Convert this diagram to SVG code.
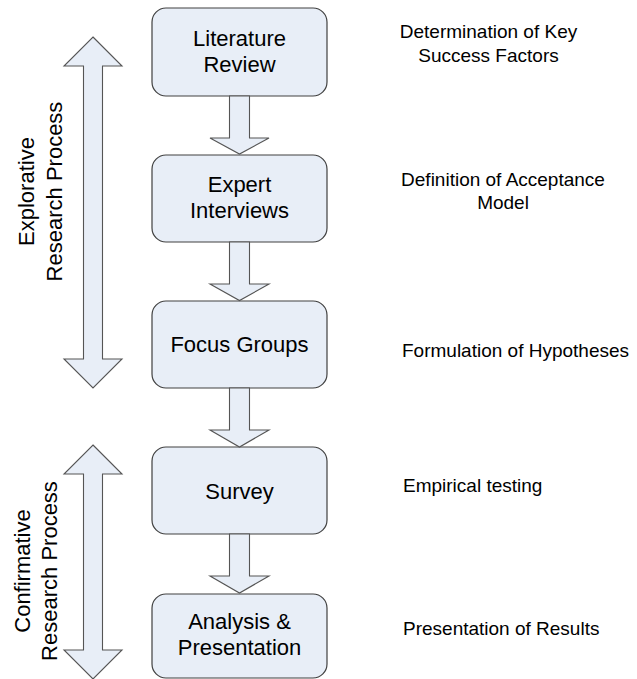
<svg xmlns="http://www.w3.org/2000/svg" width="637" height="679" viewBox="0 0 637 679">
  <style>
    .box { fill: #E8EEF7; stroke: #404040; stroke-width: 1.2; }
    .arrow { fill: #E8EEF7; stroke: #555555; stroke-width: 1.1; stroke-linejoin: miter; }
    .label { font-family: "Liberation Sans", Arial, sans-serif; font-size: 22px; fill: #000000; text-anchor: middle; }
    .note { font-family: "Liberation Sans", Arial, sans-serif; font-size: 19px; fill: #000000; }
    .note.c { text-anchor: middle; }
  </style>
  <rect width="637" height="679" fill="#FFFFFF"/>

  <!-- phase arrows with their rotated captions -->
  <g id="explorative-phase">
    <polygon class="arrow" points="93,37 122,66 102.5,66 102.5,359 122,359 93,388 64,359 83.5,359 83.5,66 64,66"/>
    <g transform="translate(34,191.5) rotate(-90)">
      <text class="label" x="0" y="0">Explorative</text>
      <text class="label" x="0" y="27.5">Research Process</text>
    </g>
  </g>
  <g id="confirmative-phase">
    <polygon class="arrow" points="93,445 122,474 102.5,474 102.5,650 122,650 93,679 64,650 83.5,650 83.5,474 64,474"/>
    <g transform="translate(30,571) rotate(-90)">
      <text class="label" x="0" y="0">Confirmative</text>
      <text class="label" x="0" y="26.5">Research Process</text>
    </g>
  </g>

  <!-- process steps -->
  <g id="literature-review">
    <rect class="box" x="152" y="8" width="175" height="88" rx="14" ry="14"/>
    <text class="label" x="239.5" y="45.7">Literature</text>
    <text class="label" x="239.5" y="71.7">Review</text>
  </g>
  <g id="expert-interviews">
    <rect class="box" x="152" y="155" width="175" height="87" rx="14" ry="14"/>
    <text class="label" x="239.5" y="191.7">Expert</text>
    <text class="label" x="239.5" y="218.3">Interviews</text>
  </g>
  <g id="focus-groups">
    <rect class="box" x="152" y="301" width="175" height="87" rx="14" ry="14"/>
    <text class="label" x="239.5" y="352">Focus Groups</text>
  </g>
  <g id="survey">
    <rect class="box" x="152" y="447" width="175" height="87" rx="14" ry="14"/>
    <text class="label" x="239.5" y="498.5">Survey</text>
  </g>
  <g id="analysis-presentation">
    <rect class="box" x="152" y="594" width="175" height="84" rx="14" ry="14"/>
    <text class="label" x="239.5" y="628.5">Analysis &amp;</text>
    <text class="label" x="239.5" y="655">Presentation</text>
  </g>

  <!-- block arrows between steps -->
  <g id="connectors">
    <polygon class="arrow" points="229.5,96 249.5,96 249.5,138 269,138 239.5,154 210,138 229.5,138"/>
    <polygon class="arrow" points="229.5,242 249.5,242 249.5,284 269,284 239.5,300.5 210,284 229.5,284"/>
    <polygon class="arrow" points="229.5,388 249.5,388 249.5,430 269,430 239.5,447 210,430 229.5,430"/>
    <polygon class="arrow" points="229.5,534 249.5,534 249.5,576 269,576 239.5,593 210,576 229.5,576"/>
  </g>

  <!-- outcomes of each step -->
  <g id="outcome-key-success-factors">
    <text class="note c" x="488.5" y="38.3">Determination of Key</text>
    <text class="note c" x="488.5" y="61.5">Success Factors</text>
  </g>
  <g id="outcome-acceptance-model">
    <text class="note c" x="503" y="186">Definition of Acceptance</text>
    <text class="note c" x="503" y="209">Model</text>
  </g>
  <g id="outcome-hypotheses">
    <text class="note" x="402" y="357">Formulation of Hypotheses</text>
  </g>
  <g id="outcome-testing">
    <text class="note" x="403" y="492">Empirical testing</text>
  </g>
  <g id="outcome-results">
    <text class="note" x="403" y="635">Presentation of Results</text>
  </g>
</svg>
